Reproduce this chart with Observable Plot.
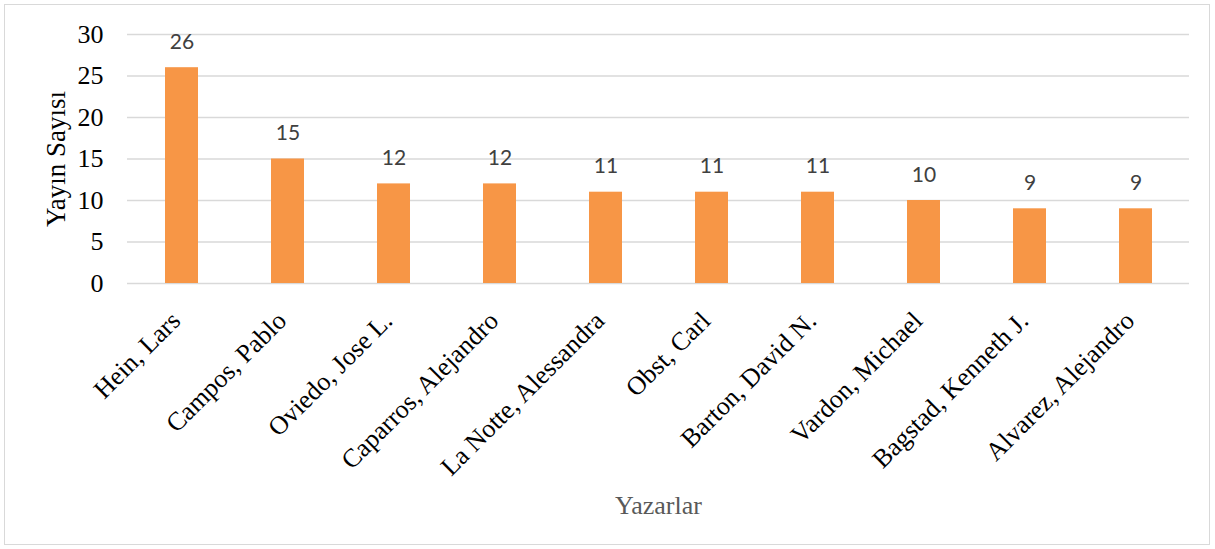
<!DOCTYPE html>
<html>
<head>
<meta charset="utf-8">
<script src="https://cdn.jsdelivr.net/npm/d3@7"></script>
<script src="https://cdn.jsdelivr.net/npm/@observablehq/plot@0.6"></script>
<style>
body { margin: 0; background: #fff; }
#wrap { position: relative; width: 1215px; height: 549px; }
#border { position: absolute; left: 4px; top: 4px; width: 1204px; height: 539px; border: 1.5px solid #d9d9d9; }
#chart { position: absolute; left: 0; top: 0; }
</style>
</head>
<body>
<div id="wrap"><div id="border"></div><div id="chart"></div></div>
<script>
const authors = ["Hein, Lars", "Campos, Pablo", "Oviedo, Jose L.", "Caparros, Alejandro", "La Notte, Alessandra", "Obst, Carl", "Barton, David N.", "Vardon, Michael", "Bagstad, Kenneth J.", "Alvarez, Alejandro"];
const counts = [26, 15, 12, 12, 11, 11, 11, 10, 9, 9];
const yTicks = [0, 5, 10, 15, 20, 25, 30];
const data = authors.map((a, i) => ({author: a, count: counts[i]}));

const chart = Plot.plot({
  width: 1215,
  height: 549,
  marginLeft: 127,
  marginRight: 26,
  marginTop: 34,
  marginBottom: 266,
  style: {background: "transparent", overflow: "visible"},
  x: {domain: authors, paddingInner: 0.69, paddingOuter: 0.345},
  y: {domain: [0, 30]},
  marks: [
    Plot.gridY(yTicks, {stroke: "#d9d9d9", strokeOpacity: 1, strokeWidth: 1.5}),
    Plot.barY(data, {x: "author", y: "count", fill: "#F79646"}),
    Plot.text(data, {x: "author", y: "count", text: d => String(d.count), dy: -19, lineAnchor: "bottom", fontSize: 21, fill: "#404040", fontFamily: "Lato, 'Open Sans', sans-serif"}),
    Plot.axisY({ticks: yTicks, tickSize: 0, tickPadding: 24, fontSize: 26, fontFamily: "'Liberation Serif', serif", color: "#000", label: null}),
    Plot.axisY({ticks: [], label: "Yayın Sayısı", labelAnchor: "center", labelArrow: "none", labelOffset: 82, fontSize: 27, fontFamily: "'Liberation Serif', serif", color: "#000"}),
    Plot.axisX({tickSize: 0, tickPadding: 26, dx: -6, dy: 7, tickRotate: -45, fontSize: 26, fontFamily: "'Liberation Serif', serif", color: "#000", label: null}),
    Plot.axisX({ticks: [], label: "Yazarlar", labelAnchor: "center", labelArrow: "none", labelOffset: 230, fontSize: 26, fontFamily: "'Liberation Serif', serif", color: "#595959"})
  ]
});
document.getElementById("chart").appendChild(chart);
</script>
</body>
</html>
